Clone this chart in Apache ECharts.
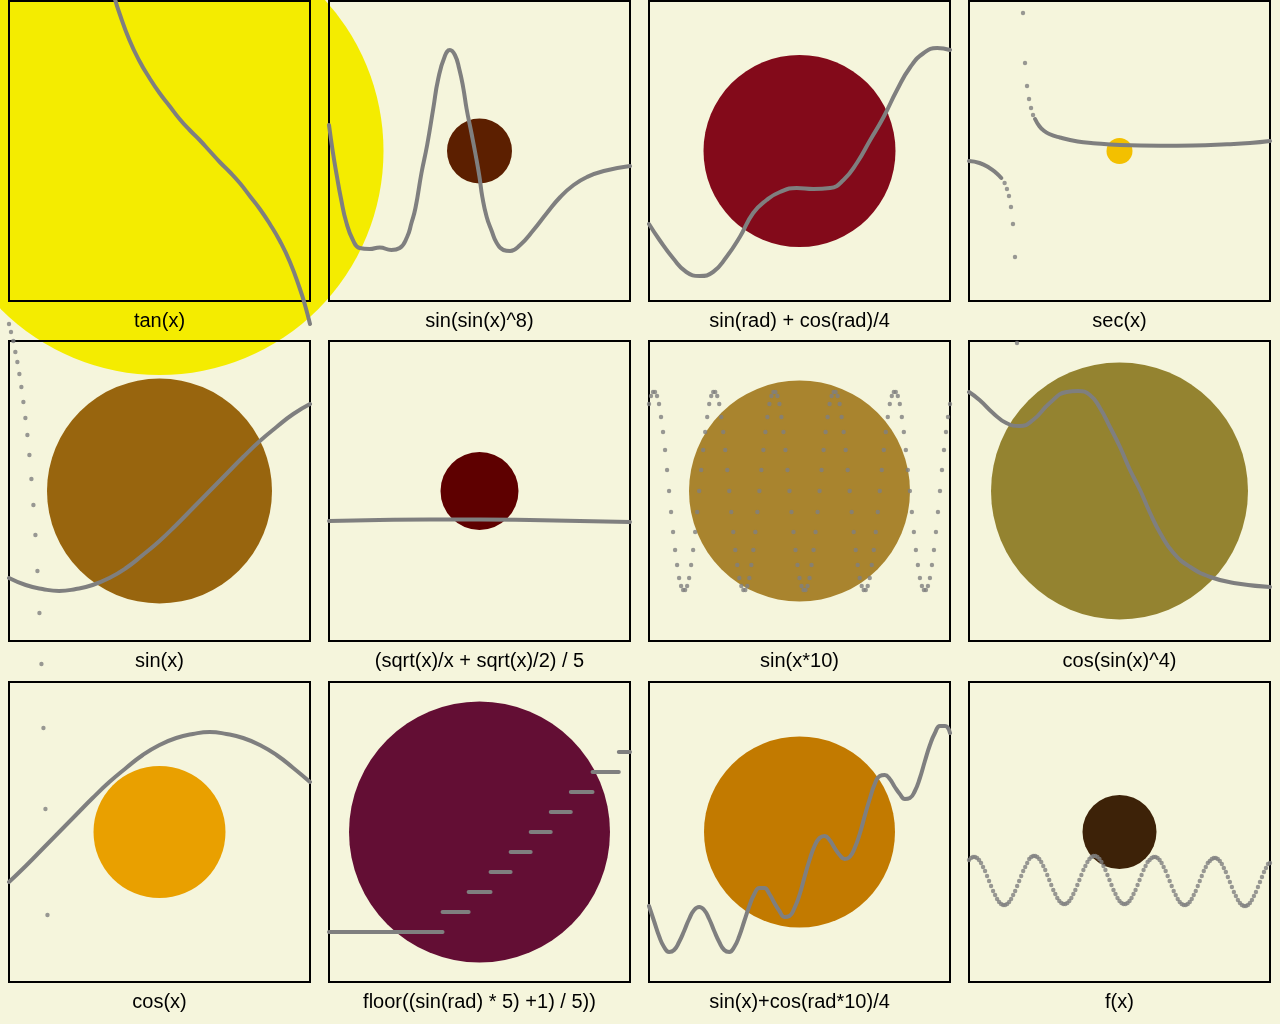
<!DOCTYPE html>
<html>
<head>
<meta charset="utf-8">
<style>
html,body{margin:0;padding:0;background:#f5f5dc;}
#chart{width:1280px;height:1024px;}
</style>
<script src="https://cdn.jsdelivr.net/npm/echarts@6/dist/echarts.min.js"></script>
</head>
<body>
<div id="chart"></div>
<script>
// ---------- data (x in degrees, y) ----------
const titles = ['tan(x)', 'sin(sin(x)^8)', 'sin(rad) + cos(rad)/4', 'sec(x)',
  'sin(x)', '(sqrt(x)/x + sqrt(x)/2) / 5', 'sin(x*10)', 'cos(sin(x)^4)',
  'cos(x)', 'floor((sin(rad) * 5) +1) / 5))', 'sin(x)+cos(rad*10)/4', 'f(x)'];

const circleValues = [448, 65, 192, 26, 225, 78, 221, 257, 132, 261, 191, 74];
const circleColors = ['#f4ec00', '#5c1f00', '#830a1a', '#f3c000', '#98650e', '#5e0000',
  '#a9842e', '#948330', '#e9a000', '#630e34', '#c27a00', '#3d2208'];

const X3 = [-120,-117,-114,-111,-108,-105,-102,-99,-96,-93,-90,-87,-84,-81,-78,-75,-72,-69,-66,-63,
  -60,-57,-54,-51,-48,-45,-42,-39,-36,-33,-30,-27,-24,-21,-18,-15,-12,-9,-6,-3,
  0,3,6,9,12,15,18,21,24,27,30,33,36,39,42,45,48,51,54,57,60];
const X10 = [-120,-110,-100,-90,-80,-70,-60,-50,-40,-30,-20,-10,0,10,20,30,40,50,60];
const X12 = [
  -120,-118.8,-117.6,-116.4,-115.2,-114,-112.8,-111.6,-110.4,-109.2,-108,-106.8,-105.6,-104.4,-103.2,-102,-100.8,-99.6,-98.4,-97.2,-96,-94.8,-93.6,-92.4,-91.2,-90,-88.8,-87.6,-86.4,-85.2,
  -84,-82.8,-81.6,-80.4,-79.2,-78,-76.8,-75.6,-74.4,-73.2,-72,-70.8,-69.6,-68.4,-67.2,-66,-64.8,-63.6,-62.4,-61.2,-60,-58.8,-57.6,-56.4,-55.2,-54,-52.8,-51.6,-50.4,-49.2,
  -48,-46.8,-45.6,-44.4,-43.2,-42,-40.8,-39.6,-38.4,-37.2,-36,-34.8,-33.6,-32.4,-31.2,-30,-28.8,-27.6,-26.4,-25.2,-24,-22.8,-21.6,-20.4,-19.2,-18,-16.8,-15.6,-14.4,-13.2,
  -12,-10.8,-9.6,-8.4,-7.2,-6,-4.8,-3.6,-2.4,-1.2,0,1.2,2.4,3.6,4.8,6,7.2,8.4,9.6,10.8,12,13.2,14.4,15.6,16.8,18,19.2,20.4,21.6,22.8,
  24,25.2,26.4,27.6,28.8,30,31.2,32.4,33.6,34.8,36,37.2,38.4,39.6,40.8,42,43.2,44.4,45.6,46.8,48,49.2,50.4,51.6,52.8,54,55.2,56.4,57.6,58.8,
  60];

// tan(x)
const tanX = [-60,-57,-54,-48,-42,-36,-30,-24,-18,-12,-6,0,6,12,18,24,30,36,42,48,54,57,60];
const tanY = [1.73,1.54,1.38,1.11,0.90,0.73,0.58,0.45,0.32,0.21,0.11,0,-0.11,-0.21,-0.32,-0.45,-0.58,-0.73,-0.90,-1.11,-1.38,-1.54,-1.73];
const tanDotX = [-120,-118.8,-117.4,-116.2,-115,-113.8,-112.6,-111.4,-110.2,-109,-107.8,-106.6,-105.4,-104.2,-103,-101.8,-100.6,-99.4,-98.2,-97];
const tanDotY = [-1.73,-1.81,-1.9,-2.01,-2.11,-2.23,-2.36,-2.51,-2.67,-2.84,-3.04,-3.28,-3.54,-3.84,-4.2,-4.62,-5.13,-5.77,-6.58,-7.64];

// sin(sin(x)^8)
const ssX = [-120,-117.7,-115.3,-112.9,-109.7,-105.7,-101.7,-95.7,-89.7,-82.7,-77.7,-73.3,-70.7,-68.3,-64.7,-61.3,-57.7,-54.7,-50.7,-47.7,
  -44.7,-42.1,-39.7,-37.7,-34.7,-32.3,-30.1,-28.3,-25.7,-22.7,-19.7,-15.7,-11.7,-5.7,2.3,10.3,18.3,26.3,34.3,44.3,60];
const ssY = [0.26,-0.01,-0.25,-0.47,-0.71,-0.89,-0.97,-0.98,-0.965,-0.99,-0.97,-0.86,-0.72,-0.57,-0.22,0.06,0.42,0.72,0.95,1.01,
  0.96,0.82,0.63,0.42,0.17,-0.04,-0.25,-0.46,-0.66,-0.80,-0.92,-0.99,-1.0,-0.94,-0.79,-0.62,-0.46,-0.34,-0.26,-0.20,-0.15];

// sin(rad) + cos(rad)/4
const scX = [-120,-113.7,-105.7,-97.7,-89.7,-81.7,-73.7,-65.7,-57.7,-49.7,-41.7,-31.7,-21.7,-11.7,-3.7,4.3,12.3,20.3,28.3,36.3,44.3,52.3,60];
const scY = [-0.73,-0.89,-1.07,-1.21,-1.25,-1.21,-1.06,-0.86,-0.62,-0.49,-0.41,-0.37,-0.38,-0.37,-0.29,-0.12,0.11,0.34,0.61,0.84,0.98,1.03,1.01];

// sec(x)
const secLeftX = [-120,-113.7,-107.7,-103.7,-100.7];
const secLeftY = [-0.10,-0.12,-0.17,-0.22,-0.27];
const secDotX = [-98.7,-97.3,-96.1,-94.9,-93.7,-92.5,-91.3,-87.7,-86.5,-85.3,-84.1,-82.9,-81.7];
const secDotY = [-0.32,-0.38,-0.45,-0.56,-0.73,-1.06,-1.92,1.38,0.88,0.65,0.52,0.43,0.36];
const secRightX = [-80.5,-78,-75.7,-72,-65.7,-55,-45.7,-29.7,-5.7,14.3,34.3,48,60];
const secRightY = [0.32,0.25,0.21,0.17,0.135,0.095,0.078,0.06,0.053,0.056,0.068,0.08,0.10];

// sin(x)
const sinY = [-0.87,-0.94,-0.98,-1,-0.98,-0.94,-0.87,-0.77,-0.64,-0.5,-0.34,-0.17,0,0.17,0.34,0.5,0.64,0.77,0.87];

// (sqrt(x)/x + sqrt(x)/2) / 5
const sqX = [-120,-90,-60,-30,0,30,60];
const sqY = [-0.30,-0.29,-0.285,-0.285,-0.29,-0.30,-0.31];

// sin(x*10)  (dots every 1.2 degrees)
const s10Y = [
  0.87,0.95,0.99,0.99,0.95,0.87,0.74,0.59,0.41,0.21,0,-0.21,-0.41,-0.59,-0.74,-0.87,-0.95,-0.99,-0.99,-0.95,-0.87,-0.74,-0.59,-0.41,-0.21,0,0.21,0.41,0.59,0.74,
  0.87,0.95,0.99,0.99,0.95,0.87,0.74,0.59,0.41,0.21,0,-0.21,-0.41,-0.59,-0.74,-0.87,-0.95,-0.99,-0.99,-0.95,-0.87,-0.74,-0.59,-0.41,-0.21,0,0.21,0.41,0.59,0.74,
  0.87,0.95,0.99,0.99,0.95,0.87,0.74,0.59,0.41,0.21,0,-0.21,-0.41,-0.59,-0.74,-0.87,-0.95,-0.99,-0.99,-0.95,-0.87,-0.74,-0.59,-0.41,-0.21,0,0.21,0.41,0.59,0.74,
  0.87,0.95,0.99,0.99,0.95,0.87,0.74,0.59,0.41,0.21,0,-0.21,-0.41,-0.59,-0.74,-0.87,-0.95,-0.99,-0.99,-0.95,-0.87,-0.74,-0.59,-0.41,-0.21,0,0.21,0.41,0.59,0.74,
  0.87,0.95,0.99,0.99,0.95,0.87,0.74,0.59,0.41,0.21,0,-0.21,-0.41,-0.59,-0.74,-0.87,-0.95,-0.99,-0.99,-0.95,-0.87,-0.74,-0.59,-0.41,-0.21,0,0.21,0.41,0.59,0.74,
  0.87];

// cos(sin(x)^4)
const cs4X = [-120,-113.7,-105.7,-97.7,-89.7,-81.7,-71.7,-61.7,-54.7,-47.7,-41.7,-35.7,-29.7,-23.7,-17.7,-11.7,-5.7,2.3,12.3,24.3,38.3,60];
const cs4Y = [0.99,0.91,0.78,0.68,0.65,0.71,0.88,0.99,1.00,0.96,0.83,0.64,0.44,0.21,0.01,-0.22,-0.42,-0.62,-0.76,-0.86,-0.92,-0.96];

// cos(x)
const cosY = [-0.5,-0.34,-0.17,0,0.17,0.34,0.5,0.64,0.77,0.87,0.94,0.98,1,0.98,0.94,0.87,0.77,0.64,0.5];

// floor steps
const floorX = [-120,-52.1,-36.5,-23.4,-11.4,0.6,12.6,24.6,37.6,53.3,60];
const floorY = [-1.0,-0.8,-0.6,-0.4,-0.2,0,0.2,0.4,0.6,0.8];

// sin(x)+cos(rad*10)/4
const sc10Y = [-0.74,-0.89,-1.04,-1.15,-1.20,-1.18,-1.10,-0.99,-0.87,-0.78,
  -0.75,-0.78,-0.87,-0.99,-1.10,-1.18,-1.20,-1.15,-1.04,-0.89,
  -0.74,-0.62,-0.56,-0.56,-0.62,-0.71,-0.79,-0.85,-0.84,-0.76,
  -0.63,-0.45,-0.28,-0.14,-0.06,-0.04,-0.08,-0.16,-0.23,-0.27,
  -0.25,-0.16,-0.02,0.16,0.33,0.48,0.56,0.57,0.53,0.45,
  0.38,0.33,0.34,0.41,0.54,0.71,0.87,0.99,1.06,1.06,
  0.99];

// f(x)  (dots every 1.2 degrees)
const fY = [
  -0.28,-0.26,-0.25,-0.25,-0.26,-0.28,-0.31,-0.35,-0.39,-0.44,-0.49,-0.54,-0.59,-0.63,-0.67,-0.70,-0.72,-0.73,-0.73,-0.72,-0.70,-0.67,-0.63,-0.59,-0.54,-0.49,-0.44,-0.39,-0.35,-0.31,
  -0.27,-0.25,-0.24,-0.24,-0.25,-0.27,-0.30,-0.34,-0.38,-0.43,-0.48,-0.53,-0.58,-0.62,-0.66,-0.69,-0.71,-0.72,-0.72,-0.71,-0.69,-0.66,-0.62,-0.58,-0.53,-0.48,-0.43,-0.38,-0.34,-0.30,
  -0.27,-0.25,-0.24,-0.24,-0.25,-0.27,-0.30,-0.34,-0.38,-0.43,-0.48,-0.53,-0.58,-0.62,-0.66,-0.69,-0.71,-0.72,-0.72,-0.71,-0.69,-0.66,-0.62,-0.58,-0.53,-0.48,-0.43,-0.38,-0.34,-0.30,
  -0.28,-0.26,-0.25,-0.25,-0.26,-0.28,-0.31,-0.35,-0.39,-0.44,-0.49,-0.54,-0.59,-0.63,-0.67,-0.70,-0.72,-0.73,-0.73,-0.72,-0.70,-0.67,-0.63,-0.59,-0.54,-0.49,-0.44,-0.39,-0.35,-0.31,
  -0.29,-0.27,-0.26,-0.26,-0.27,-0.29,-0.32,-0.36,-0.40,-0.45,-0.50,-0.55,-0.60,-0.64,-0.68,-0.71,-0.73,-0.74,-0.74,-0.73,-0.71,-0.68,-0.64,-0.60,-0.55,-0.50,-0.45,-0.40,-0.36,-0.32,
  -0.31];

// ---------- layout ----------
const COL_LEFT = [9, 329, 649, 969];
const ROW_TOP = [1, 341, 682];
const CELL_W = 301, CELL_H = 300;
const GRAY = '#7f7f7f';

const grids = [], xAxes = [], yAxes = [], series = [], graphics = [];
for (let i = 0; i < 12; i++) {
  const c = i % 4, r = Math.floor(i / 4);
  grids.push({left: COL_LEFT[c], top: ROW_TOP[r], width: CELL_W, height: CELL_H,
    show: true, borderColor: '#000', borderWidth: 2, backgroundColor: 'transparent', z: 3});
  xAxes.push({gridIndex: i, type: 'value', min: -120, max: 60, show: false});
  yAxes.push({gridIndex: i, type: 'value', min: -1.5, max: 1.5, show: false});
  series.push({type: 'scatter', xAxisIndex: i, yAxisIndex: i, clip: false, silent: true, z: 1,
    data: [[-30, 0, circleValues[i]]], symbolSize: d => d[2],
    itemStyle: {color: circleColors[i], opacity: 1}, emphasis: {disabled: true}});
  graphics.push({type: 'text', x: COL_LEFT[c] + CELL_W / 2, y: ROW_TOP[r] + CELL_H + 20, z: 10,
    style: {text: titles[i], fill: '#000', font: '20px "Liberation Sans", Arial, sans-serif',
      align: 'center', verticalAlign: 'middle', textAlign: 'center', textVerticalAlign: 'middle'}});
}

function pairs(xs, ys) { return xs.map((x, k) => [x, ys[k]]); }
function curve(i, xs, ys, smooth) {
  return {type: 'line', xAxisIndex: i, yAxisIndex: i, data: pairs(xs, ys), smooth: smooth === undefined ? true : smooth,
    symbol: 'none', showSymbol: false, clip: false, silent: true, z: 5,
    lineStyle: {color: GRAY, width: 4, cap: 'round', join: 'round'}, emphasis: {disabled: true}};
}
function dots(i, xs, ys) {
  return {type: 'scatter', xAxisIndex: i, yAxisIndex: i, data: pairs(xs, ys), symbolSize: 4.4,
    clip: false, silent: true, z: 5, itemStyle: {color: GRAY}, emphasis: {disabled: true}};
}

series.push(curve(0, tanX, tanY));
series.push(dots(0, tanDotX, tanDotY));
series.push(curve(1, ssX, ssY));
series.push(curve(2, scX, scY));
series.push(curve(3, secLeftX, secLeftY));
series.push(dots(3, secDotX, secDotY));
series.push(curve(3, secRightX, secRightY));
series.push(curve(4, X10, sinY));
series.push(curve(5, sqX, sqY));
series.push(dots(6, X12, s10Y));
series.push(curve(7, cs4X, cs4Y));
series.push(curve(8, X10, cosY));
for (let k = 0; k < floorY.length; k++) {
  series.push(curve(9, [floorX[k], floorX[k + 1]], [floorY[k], floorY[k]], false));
}
series.push(curve(10, X3, sc10Y));
series.push(dots(11, X12, fY));

const chart = echarts.init(document.getElementById('chart'));
chart.setOption({
  backgroundColor: '#f5f5dc',
  animation: false,
  grid: grids,
  xAxis: xAxes,
  yAxis: yAxes,
  series: series,
  graphic: graphics
});
</script>
</body>
</html>
